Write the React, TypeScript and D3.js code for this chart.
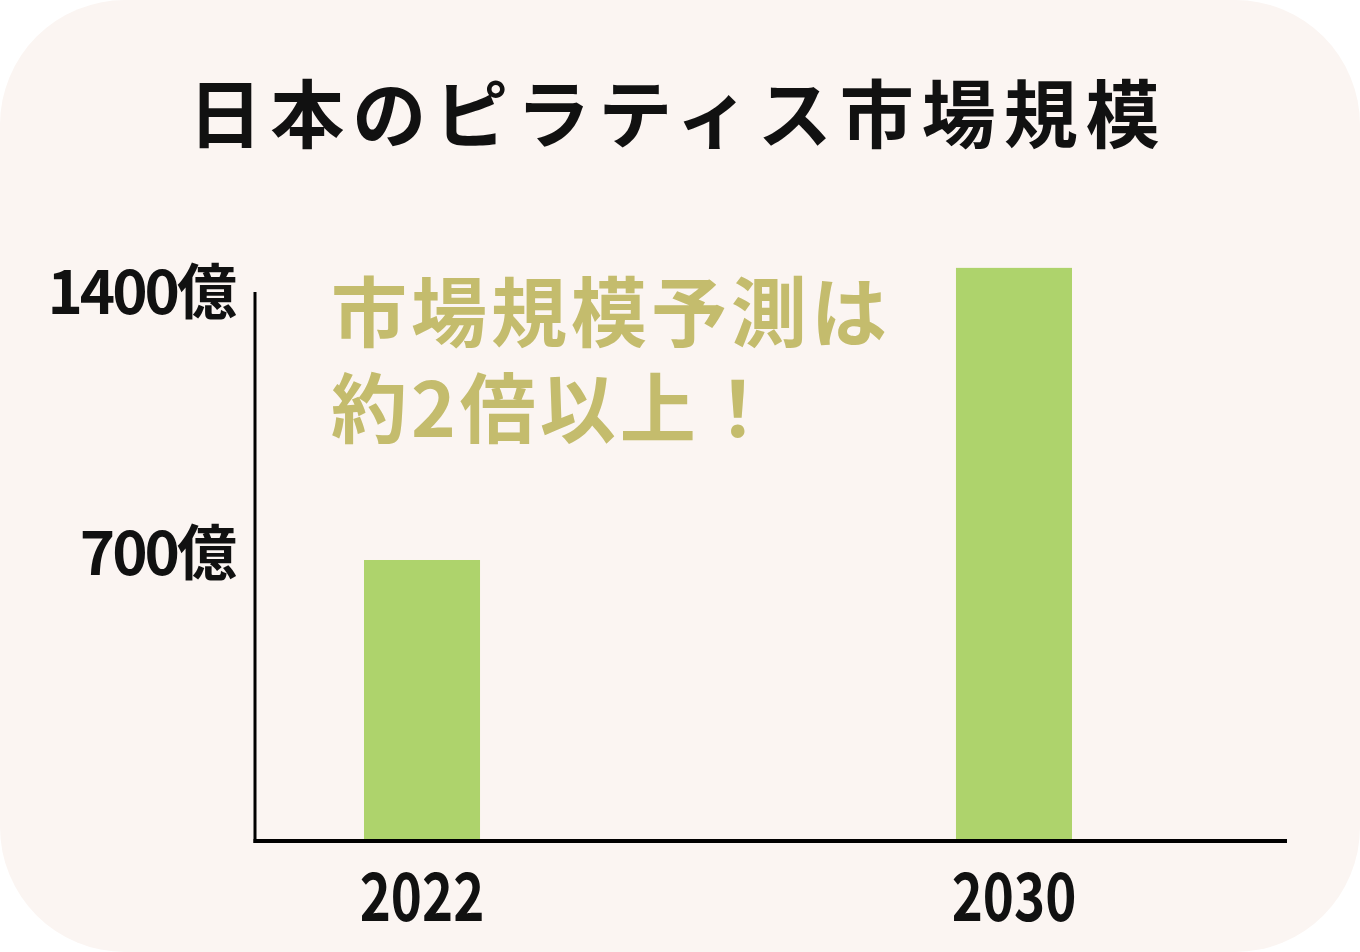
import { useEffect, useRef } from 'react'
import * as d3 from 'd3'

// data
const years = ['2022', '2030']
const marketSize = [683, 1393] // 億円
const yTicks = [700, 1400]
const title = '日本のピラティス市場規模'
const noteLines = ['市場規模予測は', '約2倍以上！']

const W = 1360
const H = 952
const FONT = '"Noto Sans CJK JP", "Noto Sans", sans-serif'

export default function App() {
  const ref = useRef<SVGSVGElement>(null)

  useEffect(() => {
    const svg = d3.select(ref.current)
    svg.selectAll('*').remove()

    // 背景 (角丸)
    svg.append('rect')
      .attr('width', W).attr('height', H)
      .attr('fill', '#ffffff')
    svg.append('rect')
      .attr('x', 0).attr('y', 0)
      .attr('width', W).attr('height', H)
      .attr('rx', 125).attr('ry', 125)
      .attr('fill', '#fbf5f2')

    // タイトル
    svg.append('text')
      .attr('x', 678).attr('y', 142)
      .attr('text-anchor', 'middle')
      .attr('font-family', FONT)
      .attr('font-weight', 700)
      .attr('font-size', 74)
      .attr('letter-spacing', 8)
      .attr('fill', '#111')
      .text(title)

    const x0 = 255, x1 = 1287
    const yBase = 841, axisTop = 292

    const x = d3.scaleBand().domain(years).range([364, 1072]).paddingInner(0.804).paddingOuter(0)
    const y = d3.scaleLinear().domain([0, 1400]).range([yBase, 265])

    // バー
    svg.append('g').selectAll('rect')
      .data(years)
      .join('rect')
      .attr('x', d => x(d)!)
      .attr('width', x.bandwidth())
      .attr('y', (d, i) => y(marketSize[i]))
      .attr('height', (d, i) => yBase - y(marketSize[i]))
      .attr('fill', '#aed36c')

    // 軸
    svg.append('line')
      .attr('x1', x0).attr('x2', x0)
      .attr('y1', axisTop).attr('y2', yBase + 2)
      .attr('stroke', '#000').attr('stroke-width', 3)
    svg.append('line')
      .attr('x1', x0 - 1.5).attr('x2', x1)
      .attr('y1', yBase).attr('y2', yBase)
      .attr('stroke', '#000').attr('stroke-width', 4)

    // y軸ラベル
    svg.append('g').selectAll('text')
      .data(yTicks)
      .join('text')
      .attr('transform', d => `translate(234,${Math.max(y(d), axisTop) + 22})`)
      .attr('text-anchor', 'end')
      .attr('font-family', FONT)
      .attr('font-weight', 700)
      .attr('font-size', 60)
      .attr('letter-spacing', -3)
      .attr('fill', '#111')
      .text(d => `${d}億`)

    // x軸ラベル
    svg.append('g').selectAll('text')
      .data(years)
      .join('text')
      .attr('transform', d => `translate(${x(d)! + x.bandwidth() / 2},921) scale(0.8,1)`)
      .attr('text-anchor', 'middle')
      .attr('font-family', FONT)
      .attr('font-weight', 700)
      .attr('font-size', 66)
      .attr('fill', '#111')
      .text(d => d)

    // 注記
    svg.append('g').selectAll('text')
      .data(noteLines)
      .join('text')
      .attr('x', 331)
      .attr('y', (d, i) => 341 + i * 96)
      .attr('font-family', FONT)
      .attr('font-weight', 700)
      .attr('font-size', 76)
      .attr('letter-spacing', 4)
      .attr('fill', '#c4bc6d')
      .text(d => d)
  }, [])

  return (
    <svg
      ref={ref}
      width={W}
      height={H}
      viewBox={`0 0 ${W} ${H}`}
      style={{ position: 'absolute', left: 0, top: 0, display: 'block' }}
    />
  )
}
